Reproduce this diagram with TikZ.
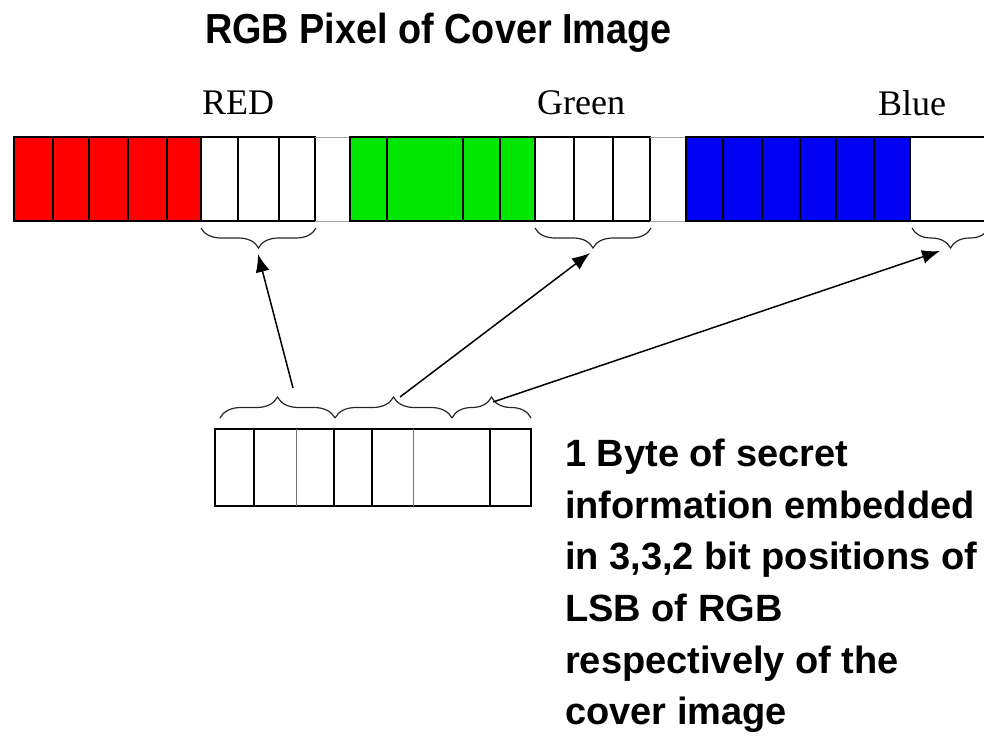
\documentclass[tikz,border=0pt]{standalone}
\usepackage{fontspec}
\setmainfont{Liberation Serif}
\setsansfont{Liberation Sans}
\newfontfamily\titlefont[FakeStretch=0.9]{Liberation Sans Bold}
\usepackage{tikz}
\usetikzlibrary{arrows, arrows.meta, decorations.pathreplacing, positioning}
\definecolor{redbit}{RGB}{255,0,0}
\definecolor{greenbit}{RGB}{0,230,0}
\definecolor{bluebit}{RGB}{0,0,245}
\tikzset{
  bitcell/.style={draw=black, line width=1.3pt},
  gapline/.style={draw=black!35, line width=1pt},
  lsbbrace/.style={decorate, decoration={brace, amplitude=#1}, draw=black!85, line width=1.2pt},
  lsbbrace/.default=20pt,
  pointer/.style={-{Latex[length=18pt,width=14pt]}, line width=1.5pt},
  chanlabel/.style={anchor=base west, inner sep=0, font=\fontsize{36}{38}\selectfont},
  boldsans/.style={inner sep=0, font=\fontsize{38}{51.6}\selectfont\bfseries\sffamily}
}

\begin{document}
\begin{tikzpicture}[x=1pt, y=-1pt]
    \useasboundingbox (0,0) rectangle (984,736);
    \clip (0,0) rectangle (984,736);
    \node[anchor=base west, inner sep=0, font=\fontsize{42}{44}\selectfont\titlefont] (title) at (205,43) {RGB Pixel of Cover Image};
    \node[chanlabel] (redlbl) at (202,114) {RED};
    \node[chanlabel] (greenlbl) at (537,114) {Green};
    \node[chanlabel] (bluelbl) at (878,115) {Blue};
    % red byte
    \foreach \a/\b in {14/53,53/89,89/128,128/167,167/201}
    {
        \draw[bitcell, fill=redbit](\a,137) rectangle (\b,221);
    }
    \foreach \a/\b in {201/238,238/279,279/315}
    {
        \draw[bitcell](\a,137) rectangle (\b,221);
    }
    \draw[gapline](315,137)--(350,137) (315,221)--(350,221);
    % green byte
    \foreach \a/\b in {350/387,387/463,463/500,500/535}
    {
        \draw[bitcell, fill=greenbit](\a,137) rectangle (\b,221);
    }
    \foreach \a/\b in {535/574,574/613,613/650}
    {
        \draw[bitcell](\a,137) rectangle (\b,221);
    }
    \draw[gapline](650,137)--(686,137) (650,221)--(686,221);
    % blue byte
    \foreach \a/\b in {686/723,723/762,762/800,800/836,836/874,874/910}
    {
        \draw[bitcell, fill=bluebit](\a,137) rectangle (\b,221);
    }
    \draw[bitcell](910,137) rectangle (1000,221);
    % LSB braces
    \draw[lsbbrace](316,228)--(201,228);
    \draw[lsbbrace](651,228)--(535,228);
    \draw[lsbbrace](989,228)--(912,228);
    % secret byte
    \draw[bitcell](215,429) rectangle (531,506);
    \foreach \x in {254,334,372,490}
    {
        \draw[bitcell](\x,429)--(\x,506);
    }
    \foreach \x in {296,413}
    {
        \draw[bitcell, draw=black!55, line width=1pt](\x,429)--(\x,506);
    }
    \draw[lsbbrace=21pt](220,418)--(335,418);
    \draw[lsbbrace=21pt](335,418)--(452,418);
    \draw[lsbbrace=21pt](452,418)--(531,418);
    % arrows
    \coordinate (rsrc) at (293,388);
    \coordinate (rdst) at (258,254);
    \coordinate (gsrc) at (400,397);
    \coordinate (gdst) at (590,253);
    \coordinate (bsrc) at (493,402);
    \coordinate (bdst) at (940,251);
    \draw[pointer](rsrc)--(rdst);
    \draw[pointer](gsrc)--(gdst);
    \draw[pointer](bsrc)--(bdst);
    \node[boldsans, anchor=north west, align=left] (note) at (565,439)
        {1 Byte of secret\\information embedded\\in 3,3,2 bit positions of\\LSB of RGB\\respectively of the\\cover image};
\end{tikzpicture}
\end{document}
